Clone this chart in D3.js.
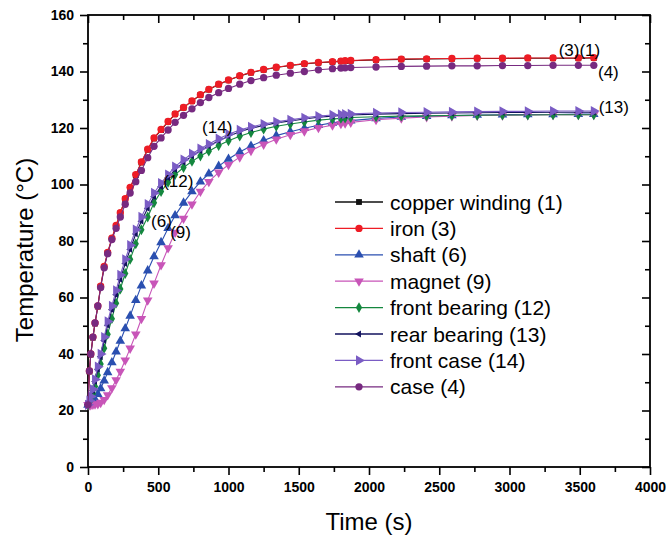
<!DOCTYPE html>
<html>
<head>
<meta charset="utf-8">
<script src="https://cdn.jsdelivr.net/npm/d3@7"></script>
<style>
  body { margin: 0; background: #fff; }
  text { font-family: "Liberation Sans", Arial, sans-serif; }
</style>
</head>
<body>
<div id="chart"></div>
<script>
// time steps (s)
var times = [0, 10, 20, 35, 50, 70, 90, 115, 140, 170, 200, 230, 265, 300, 340, 380, 425, 470, 520, 570,
  620, 680, 740, 800, 860, 930, 1000, 1080, 1160, 1250, 1340, 1440, 1540, 1640, 1740, 1800, 1830, 1870,
  2050, 2230, 2410, 2590, 2770, 2950, 3130, 3310, 3490, 3600];

// temperatures (°C)
var copperWinding = [22, 33.8, 39.8, 45.8, 50.8, 56.8, 63.8, 70.8, 75.8, 80.8, 85.3, 89.8, 94.8, 98.8, 103.3, 107.8,
  112.3, 116.3, 119.3, 122.2, 124.9, 127.2, 129.5, 131.7, 133.6, 135.4, 136.9, 138.4, 139.6, 140.6, 141.4,
  142.1, 142.7, 143.1, 143.4, 143.6, 143.7, 143.8, 144.1, 144.3, 144.4, 144.5, 144.6, 144.6, 144.7, 144.7, 144.7, 144.8];
var iron = [22, 34, 40, 46, 51, 57, 64, 71, 76, 81, 85.5, 90, 95, 99, 103.5, 108,
  112.5, 116.5, 119.5, 122.3, 125, 127.3, 129.6, 131.8, 133.7, 135.5, 137, 138.5, 139.7, 140.7, 141.5,
  142.2, 142.8, 143.2, 143.5, 143.7, 143.8, 143.9, 144.2, 144.4, 144.5, 144.6, 144.7, 144.7, 144.8, 144.8, 144.8, 144.9];
var shaft = [22, 22.1, 22.3, 22.8, 24, 25.8, 27.8, 30.5, 33.5, 37, 40.8, 44.6, 49, 53.5, 59, 64.2,
  69.5, 74.5, 79.5, 84.5, 89, 93.5, 97.5, 101, 103.8, 106.5, 109, 111.5, 113.6, 115.6, 117.3,
  118.7, 119.9, 121, 121.8, 122.2, 122.4, 122.6, 123.4, 123.9, 124.2, 124.4, 124.6, 124.7, 124.8, 124.8, 124.9, 124.9];
var magnet = [22, 22, 22, 22.1, 22.2, 22.3, 22.8, 23.8, 25.5, 28, 30.8, 33.8, 37.8, 42, 47, 52.5,
  59, 65, 71.5, 77.5, 83, 88, 93, 97.5, 101, 104.3, 107, 109.7, 112, 114.2, 116,
  117.6, 118.9, 120.1, 121, 121.5, 121.7, 122, 122.9, 123.5, 123.9, 124.2, 124.4, 124.5, 124.6, 124.7, 124.7, 124.7];
var frontBearing = [22, 23, 24, 26, 28.5, 32.5, 36.5, 42, 47, 52.5, 58, 63, 68.5, 73.5, 79, 84,
  88.5, 93.5, 97.5, 100.8, 103.5, 106, 108.2, 110.1, 111.8, 113.8, 115.5, 117.1, 118.4, 119.6, 120.6,
  121.4, 122.1, 122.8, 123.2, 123.4, 123.5, 123.7, 124, 124.2, 124.3, 124.4, 124.5, 124.6, 124.6, 124.7, 124.7, 124.7];
var rearBearing = [22, 23.3, 24.7, 27, 30.3, 34.6, 39, 44.8, 50.2, 55.7, 61, 66.4, 72, 77, 82.5, 87,
  91.6, 95.7, 99.3, 102.4, 105.3, 107.9, 110.1, 112, 113.6, 115.5, 117.1, 118.7, 119.9, 120.9, 121.8,
  122.5, 123.2, 123.8, 124.2, 124.4, 124.5, 124.6, 124.9, 125.1, 125.2, 125.3, 125.4, 125.5, 125.5, 125.6, 125.6, 125.6];
var frontCase = [22, 23.5, 25, 27.5, 31, 35.5, 40, 46, 51.5, 57, 62.5, 68, 73.5, 78.5, 84, 88.5,
  93, 97, 100.5, 103.5, 106.3, 108.8, 110.9, 112.7, 114.3, 116.2, 117.8, 119.3, 120.4, 121.4, 122.2,
  122.9, 123.6, 124.2, 124.6, 124.8, 124.9, 125, 125.3, 125.5, 125.6, 125.7, 125.8, 125.9, 125.9, 126, 126, 126];
var caseTemp = [22, 34, 40, 46, 51, 57, 63.5, 70.5, 75.5, 80.5, 84.5, 88.5, 93, 97, 101, 105,
  109.5, 113.5, 116.5, 119.3, 122, 124.5, 126.8, 129, 130.8, 132.5, 134, 135.5, 136.8, 137.8, 138.7,
  139.4, 140, 140.6, 141, 141.2, 141.3, 141.4, 141.6, 141.8, 141.9, 142, 142, 142.1, 142.1, 142.2, 142.2, 142.2];

var seriesNames = ["copper winding (1)", "iron (3)", "shaft (6)", "magnet (9)", "front bearing (12)",
  "rear bearing (13)", "front case (14)", "case (4)"];
var seriesValues = [copperWinding, iron, shaft, magnet, frontBearing, rearBearing, frontCase, caseTemp];
var seriesColors = ["#111111", "#ee1c25", "#2a4fb0", "#c855b8", "#14873e", "#12125e", "#7a5cc4", "#772a80"];
var seriesShapes = ["square", "circle", "up", "down", "diamond", "left", "right", "circle"];

// curve labels: [text, time, temperature]
var curveLabels = [["(3)(1)", 3350, 145.6], ["(4)", 3630, 137.6], ["(13)", 3635, 125.2],
  ["(14)", 812, 118.1], ["(12)", 535, 99], ["(6)", 449, 85.1], ["(9)", 585, 80.9]];

var xTicks = [0, 500, 1000, 1500, 2000, 2500, 3000, 3500, 4000];
var yTicks = [0, 20, 40, 60, 80, 100, 120, 140, 160];

var width = 666, height = 538;
var margin = {top: 15, right: 16, bottom: 71, left: 88};
var w = width - margin.left - margin.right;
var h = height - margin.top - margin.bottom;

var svg = d3.select("#chart").append("svg")
  .attr("width", width).attr("height", height);
var g = svg.append("g").attr("transform", "translate(" + margin.left + "," + margin.top + ")");

var x = d3.scaleLinear().domain([0, 4000]).range([0, w]);
var y = d3.scaleLinear().domain([0, 160]).range([h, 0]);

var xMinor = d3.range(250, 4000, 500);
var yMinor = d3.range(10, 160, 20);

function styleAxis(sel) {
  sel.select(".domain").remove();
  sel.selectAll("line").attr("stroke", "#000").attr("stroke-width", 1.6);
}

// bottom
g.append("g").attr("transform", "translate(0," + h + ")")
  .call(d3.axisBottom(x).tickValues(xTicks).tickSize(8).tickPadding(7).tickFormat(d3.format("d")))
  .call(styleAxis)
  .selectAll("text").attr("font-size", 14).attr("font-weight", "bold").attr("fill", "#000")
  .attr("font-family", "'Liberation Sans', Arial, sans-serif");
g.append("g").attr("transform", "translate(0," + h + ")")
  .call(d3.axisBottom(x).tickValues(xMinor).tickSize(5).tickFormat(""))
  .call(styleAxis);
// left
g.append("g")
  .call(d3.axisLeft(y).tickValues(yTicks).tickSize(8).tickPadding(6).tickFormat(d3.format("d")))
  .call(styleAxis)
  .selectAll("text").attr("font-size", 14).attr("font-weight", "bold").attr("fill", "#000")
  .attr("font-family", "'Liberation Sans', Arial, sans-serif");
g.append("g")
  .call(d3.axisLeft(y).tickValues(yMinor).tickSize(5).tickFormat(""))
  .call(styleAxis);
// top (inward)
g.append("g")
  .call(d3.axisTop(x).tickValues(xTicks).tickSize(-8).tickFormat(""))
  .call(styleAxis);
g.append("g")
  .call(d3.axisTop(x).tickValues(xMinor).tickSize(-5).tickFormat(""))
  .call(styleAxis);
// right (inward)
g.append("g").attr("transform", "translate(" + w + ",0)")
  .call(d3.axisRight(y).tickValues(yTicks).tickSize(-8).tickFormat(""))
  .call(styleAxis);
g.append("g").attr("transform", "translate(" + w + ",0)")
  .call(d3.axisRight(y).tickValues(yMinor).tickSize(-5).tickFormat(""))
  .call(styleAxis);

// frame
g.append("rect").attr("width", w).attr("height", h)
  .attr("fill", "none").attr("stroke", "#000").attr("stroke-width", 1.8);

function symbolFor(shape) {
  var type = d3.symbolTriangle, size = 40, rot = 0;
  if (shape == "square") { type = d3.symbolSquare; size = 34; }
  else if (shape == "circle") { type = d3.symbolCircle; size = 42; }
  else if (shape == "diamond") { type = d3.symbolDiamond; size = 34; }
  else if (shape == "down") { rot = 180; }
  else if (shape == "left") { rot = -90; size = 20; }
  else if (shape == "right") { rot = 90; size = 46; }
  return {path: d3.symbol().type(type).size(size)(), rot: rot};
}

var line = d3.line()
  .x(function (d) { return x(d[0]); })
  .y(function (d) { return y(d[1]); });

seriesValues.forEach(function (vals, i) {
  var pts = times.map(function (t, j) { return [t, vals[j]]; });
  var sym = symbolFor(seriesShapes[i]);
  var sg = g.append("g");
  sg.append("path").datum(pts)
    .attr("d", line).attr("fill", "none")
    .attr("stroke", seriesColors[i]).attr("stroke-width", 1.1);
  sg.selectAll("path.m").data(pts).enter().append("path")
    .attr("class", "m")
    .attr("d", sym.path)
    .attr("transform", function (d) { return "translate(" + x(d[0]) + "," + y(d[1]) + ") rotate(" + sym.rot + ")"; })
    .attr("fill", seriesColors[i]);
});

// curve labels
g.selectAll("text.lbl").data(curveLabels).enter().append("text")
  .attr("class", "lbl")
  .attr("x", function (d) { return x(d[1]); })
  .attr("y", function (d) { return y(d[2]); })
  .attr("font-size", 17).attr("fill", "#000")
  .text(function (d) { return d[0]; });

// legend
var legend = svg.append("g").attr("transform", "translate(335,202)");
seriesNames.forEach(function (name, i) {
  var row = legend.append("g").attr("transform", "translate(0," + (i * 26.4) + ")");
  var sym = symbolFor(seriesShapes[i]);
  row.append("line").attr("x1", 0).attr("x2", 48).attr("y1", 0).attr("y2", 0)
    .attr("stroke", seriesColors[i]).attr("stroke-width", 1.3);
  row.append("path").attr("d", sym.path)
    .attr("transform", "translate(24,0) rotate(" + sym.rot + ")")
    .attr("fill", seriesColors[i]);
  row.append("text").attr("x", 55).attr("y", 7.5)
    .attr("font-size", 21).attr("fill", "#000").text(name);
});

// axis titles
svg.append("text")
  .attr("x", margin.left + w / 2).attr("y", 530)
  .attr("text-anchor", "middle").attr("font-size", 24).text("Time (s)");
svg.append("text")
  .attr("transform", "translate(33," + 250 + ") rotate(-90)")
  .attr("text-anchor", "middle").attr("font-size", 24).text("Temperature (°C)");
</script>
</body>
</html>
